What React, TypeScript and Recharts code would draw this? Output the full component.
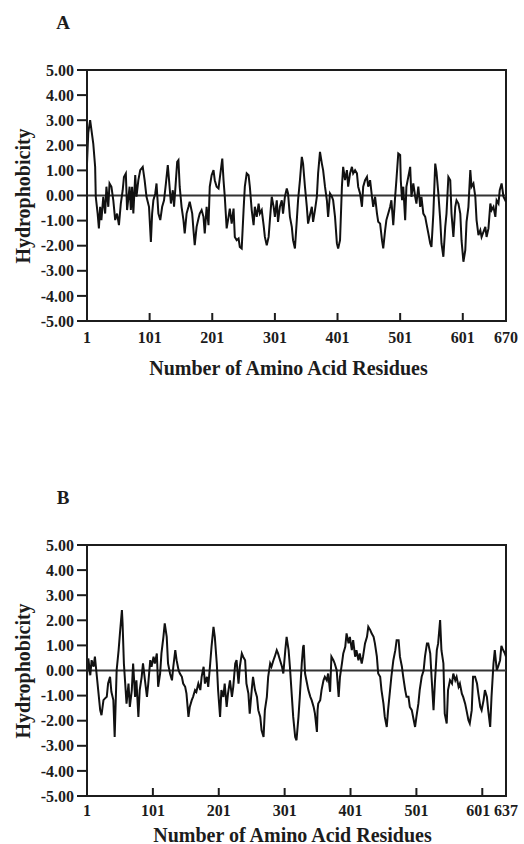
import React from 'react';
import { LineChart, Line, XAxis, YAxis, ReferenceLine, ReferenceArea } from 'recharts';

const Y_TICKS = [-5, -4, -3, -2, -1, 0, 1, 2, 3, 4, 5];
const A_X_TICKS = [1, 101, 201, 301, 401, 501, 601, 670];
const B_X_TICKS = [1, 101, 201, 301, 401, 501, 601, 637];
const Y_TITLE = 'Hydrophobicity';
const X_TITLE = 'Number of Amino Acid Residues';

// [residue, hydrophobicity]
const A_PROFILE: [number, number][] = [
  [1, 1.27], [3, 2.5], [6, 3.0], [11, 2.07], [14, 1.14], [15, -0.05], [18, -0.72], [20, -1.31], [22, -0.45], [24, -0.98],
  [27, -0.05], [30, -0.72], [32, 0.35], [35, -0.45], [37, 0.48], [40, 0.35], [43, -0.19], [46, -0.98], [49, -0.72], [52, -1.18],
  [55, -0.32], [58, 0.21], [60, 0.74], [63, 0.88], [65, -0.58], [69, 0.35], [71, -0.58], [73, 0.35], [75, -0.72], [78, 0.81],
  [80, -0.05], [83, 0.61], [86, 1.01], [90, 1.14], [93, 0.61], [96, -0.05], [100, -0.45], [103, -1.85], [105, -0.72], [107, -0.19],
  [110, 0.08], [112, 0.48], [115, -0.72], [118, -0.98], [121, -0.45], [124, -0.19], [127, 0.48], [130, 1.21], [132, 0.61], [135, -0.32],
  [138, 0.21], [140, -0.45], [143, 0.61], [145, 1.34], [147, 1.41], [149, 0.35], [152, -0.45], [155, -0.98], [157, -1.51], [160, -0.72],
  [163, -0.45], [165, -0.25], [169, -0.72], [171, -1.38], [173, -1.98], [176, -1.25], [179, -0.92], [181, -0.72], [184, -0.58], [187, -0.85],
  [189, -1.51], [192, -0.45], [195, -1.18], [197, 0.35], [200, 0.81], [203, 1.01], [205, 0.61], [208, 0.35], [211, 0.28], [213, 0.68],
  [217, 1.47], [219, 0.61], [221, -0.05], [224, -1.31], [227, -0.85], [229, -0.52], [232, -1.12], [235, -0.52], [237, -1.65], [240, -1.78],
  [243, -1.71], [245, -2.05], [248, -2.11], [251, -0.58], [253, 0.35], [256, 0.88], [259, 0.81], [261, 0.35], [264, -0.58], [267, -1.18],
  [269, -0.45], [272, -0.85], [275, -0.32], [277, -0.72], [280, -0.58], [283, -1.18], [285, -1.65], [288, -1.98], [291, -1.65], [293, -0.98],
  [296, -0.05], [299, -0.45], [301, -0.85], [304, -0.19], [306, -1.05], [309, -0.45], [312, -0.19], [314, -0.72], [317, -0.05], [320, 0.28],
  [322, 0.08], [325, -0.85], [328, -1.25], [330, -1.78], [333, -2.11], [336, -0.98], [338, -0.19], [341, 0.61], [344, 1.54], [346, 1.27],
  [349, 0.35], [352, -0.45], [354, -1.12], [357, -0.78], [360, -0.45], [362, -1.05], [365, -0.58], [368, -0.05], [370, 0.88], [373, 1.74],
  [376, 1.27], [378, 1.01], [381, 0.35], [384, -0.19], [386, -0.85], [389, 0.08], [392, -0.05], [394, -0.19], [397, -0.85], [400, -1.91],
  [402, -2.11], [405, -1.78], [408, 0.35], [410, 1.14], [413, 0.61], [416, 1.01], [418, 0.35], [421, 0.88], [424, 1.14], [426, 0.88],
  [429, 1.01], [432, 0.88], [434, 0.35], [437, 0.08], [440, -0.45], [442, 0.35], [445, 0.61], [448, 0.74], [450, 0.35], [453, 0.61],
  [456, -0.05], [458, -0.45], [461, -0.05], [464, -0.72], [466, -1.05], [469, -1.12], [472, -1.78], [474, -2.11], [477, -1.38], [479, -0.98],
  [482, -0.72], [485, -0.45], [487, -0.19], [490, -1.18], [493, -0.05], [495, 0.61], [498, 1.67], [501, 1.61], [502, 0.61], [504, -0.19],
  [506, 0.35], [509, -0.98], [511, 0.35], [514, 0.74], [517, 1.14], [519, -0.05], [522, 0.48], [525, -0.05], [527, -0.32], [530, 0.35],
  [533, -0.45], [535, -0.05], [538, -0.72], [541, -0.85], [543, -1.12], [546, -1.51], [549, -1.91], [551, -2.05], [554, -0.72], [557, 1.27],
  [559, 0.94], [562, 0.08], [565, -0.98], [567, -1.91], [570, -2.44], [573, -1.25], [575, -0.72], [578, 0.74], [581, 0.61], [583, -0.72],
  [586, -1.65], [589, -0.45], [591, -0.19], [594, -0.32], [597, -0.72], [599, -1.78], [602, -2.64], [605, -2.18], [607, -1.05], [610, -0.45],
  [613, 1.01], [615, 0.35], [618, 0.48], [621, -0.05], [623, -0.98], [626, -1.58], [629, -1.38], [631, -1.65], [634, -1.45], [637, -1.25],
  [639, -1.65], [642, -1.31], [645, -0.32], [647, -0.58], [650, -0.45], [653, -0.85], [655, -0.19], [658, -0.32], [660, 0.21], [663, 0.48],
  [666, -0.05], [670, -0.25],
];

const B_PROFILE: [number, number][] = [
  [1, -0.25], [3, 0.48], [6, -0.19], [8, 0.41], [11, 0.15], [13, 0.55], [16, -0.25], [18, -0.78], [21, -1.58], [23, -1.78],
  [26, -1.18], [28, -1.12], [31, -1.05], [33, -0.52], [36, -0.25], [38, -0.85], [41, -1.18], [43, -2.65], [46, 0.01], [49, 0.81],
  [51, 1.48], [54, 2.41], [55, 1.88], [57, 0.28], [59, -0.52], [61, -1.32], [64, -0.52], [66, -1.45], [69, -0.78], [71, 0.28],
  [74, -1.05], [76, -0.39], [79, -1.85], [81, -0.78], [84, -0.25], [86, 0.28], [89, -0.39], [92, -1.05], [94, -0.52], [97, 0.41],
  [99, 0.15], [102, 0.55], [104, 0.28], [107, 0.68], [109, -0.65], [112, -0.12], [114, 0.68], [117, 1.34], [119, 1.88], [122, 1.34],
  [124, 0.28], [127, -0.12], [130, -0.39], [132, 0.15], [135, 0.81], [137, 0.41], [140, 0.01], [142, -0.12], [145, -0.25], [147, -0.52],
  [150, -0.65], [152, -0.92], [155, -1.85], [157, -1.45], [160, -1.18], [162, -1.05], [165, -0.78], [167, -0.85], [170, -0.52], [173, -0.78],
  [175, -0.25], [178, 0.15], [180, -0.52], [183, -0.25], [185, -0.65], [188, 0.28], [190, 0.94], [193, 1.74], [195, 1.34], [198, 0.28],
  [200, -0.78], [203, -1.85], [205, -0.78], [208, -1.05], [210, -0.52], [213, -1.45], [215, -0.92], [218, -0.39], [221, -1.05], [223, -0.65],
  [226, 0.28], [228, 0.41], [231, -0.52], [233, 0.15], [236, 0.68], [238, 0.55], [241, 0.41], [243, -0.52], [246, -0.92], [248, -1.72],
  [251, -0.78], [253, -0.25], [256, -0.78], [259, -1.05], [261, -1.58], [264, -1.85], [266, -2.38], [269, -2.65], [271, -1.58], [274, -1.05],
  [276, -0.25], [279, 0.28], [281, 0.15], [284, 0.41], [286, 0.55], [289, 0.81], [291, 0.68], [294, 0.41], [297, 0.15], [299, -0.12],
  [302, 0.81], [304, 1.34], [307, 0.81], [309, 0.15], [312, -1.05], [314, -1.85], [317, -2.65], [319, -2.78], [322, -1.85], [324, -1.05],
  [327, 0.28], [329, 0.94], [330, 1.01], [332, -0.12], [334, -0.39], [337, -0.78], [340, -1.05], [342, -1.18], [345, -1.45], [347, -1.72],
  [350, -2.45], [351, -1.58], [352, -1.32], [355, -1.18], [357, -0.78], [360, -0.39], [362, -0.25], [365, -0.39], [367, -0.12], [370, -0.85],
  [372, 0.55], [375, 0.41], [377, 0.28], [380, 0.01], [383, -1.05], [385, -0.25], [388, 0.28], [390, 0.68], [393, 0.94], [395, 1.48],
  [398, 1.08], [400, 1.34], [403, 0.81], [405, 1.21], [408, 0.55], [410, 0.81], [413, 0.41], [415, 0.68], [418, 0.28], [420, 0.55],
  [423, 1.08], [426, 1.34], [428, 1.74], [431, 1.61], [433, 1.48], [436, 1.34], [438, 1.08], [441, 0.55], [443, -0.12], [446, -0.25],
  [448, -0.78], [451, -1.32], [453, -1.85], [456, -2.25], [458, -1.58], [461, -0.78], [463, -0.25], [466, 0.41], [469, 0.81], [471, 1.21],
  [474, 1.21], [476, 0.55], [479, 0.15], [481, -0.25], [484, -0.78], [486, -1.05], [489, -1.05], [491, -1.45], [494, -1.58], [496, -1.85],
  [499, -2.25], [501, -1.85], [504, -1.32], [506, -0.78], [509, -0.25], [512, 0.01], [514, 0.55], [517, 1.08], [519, 1.08], [522, 0.68],
  [524, -0.25], [527, -1.58], [529, -0.52], [532, 0.81], [534, 1.08], [537, 2.01], [539, 0.81], [542, 0.28], [544, -1.72], [547, -2.11],
  [549, -0.78], [552, -0.39], [555, -0.52], [557, -0.12], [560, -0.39], [562, -0.25], [565, -0.65], [567, -0.52], [570, -0.92], [572, -1.05],
  [575, -1.32], [577, -1.58], [580, -1.98], [582, -2.11], [585, -1.58], [587, -0.25], [590, -0.25], [593, -0.52], [595, -0.92], [598, -1.45],
  [600, -1.58], [603, -1.18], [605, -0.78], [608, -1.05], [610, -1.58], [613, -2.25], [615, -1.05], [618, 0.28], [620, 0.81], [623, 0.01],
  [625, 0.15], [628, 0.41], [630, 0.98], [632, 0.85], [635, 0.7], [637, 0.55],
];

const INK = '#1c1c1c';
const FONT = '"Liberation Serif", "Times New Roman", serif';

const textStyle: React.CSSProperties = {
  position: 'absolute',
  fontFamily: FONT,
  fontWeight: 'bold',
  color: INK,
  whiteSpace: 'nowrap',
  lineHeight: 0.8,
  transform: 'translate(-50%, -50%)',
};

function XTick(props: any) {
  const { x, y, payload, labelOffset, shiftLeft } = props;
  const dx = shiftLeft && payload.value === shiftLeft ? -4 : 0;
  return (
    <g>
      <line x1={x} x2={x} y1={y} y2={y - 8} stroke={INK} strokeWidth={2} />
      <text x={x + dx} y={y + labelOffset} textAnchor="middle" fill={INK} fontFamily={FONT} fontWeight="bold" fontSize={16}>
        {payload.value}
      </text>
    </g>
  );
}

function Panel(props: {
  top: number;
  profile: [number, number][];
  xTicks: number[];
  letter: string;
  labelOffset: number;
  titleX: number;
  titleY: number;
  shiftLeft?: number;
}) {
  const { top, profile, xTicks, letter, labelOffset, titleX, titleY, shiftLeft } = props;
  const data = profile.map(([r, v]) => ({ r, v }));
  const xMin = xTicks[0];
  const xMax = xTicks[xTicks.length - 1];
  return (
    <>
      <div style={{ ...textStyle, left: 63, top: top + 23, fontSize: 19 }}>{letter}</div>
      <div style={{ position: 'absolute', left: 0, top }}>
        <LineChart width={524} height={370} data={data} margin={{ top: 70, right: 18, bottom: 0, left: 0 }}>
          <XAxis
            dataKey="r"
            type="number"
            domain={[xMin, xMax]}
            ticks={xTicks}
            interval={0}
            allowDataOverflow
            height={49}
            tickSize={0}
            tickMargin={0}
            tickLine={false}
            axisLine={{ stroke: INK, strokeWidth: 2 }}
            tick={(p: any) => <XTick {...p} labelOffset={labelOffset} shiftLeft={shiftLeft} />}
          />
          <YAxis
            type="number"
            domain={[-5, 5]}
            ticks={Y_TICKS}
            interval={0}
            width={87}
            tickSize={10}
            tickMargin={3}
            tickLine={{ stroke: INK, strokeWidth: 2 }}
            axisLine={{ stroke: INK, strokeWidth: 2 }}
            tickFormatter={(v: number) => v.toFixed(2)}
            tick={{ fill: INK, fontFamily: FONT, fontWeight: 'bold', fontSize: 16 }}
          />
          <ReferenceArea x1={xMin} x2={xMax} y1={-5} y2={5} fill="none" stroke={INK} strokeWidth={2} fillOpacity={0} />
          <ReferenceLine y={0} stroke="#333" strokeWidth={2} />
          <Line
            type="linear"
            dataKey="v"
            stroke="#111"
            strokeWidth={2}
            dot={false}
            activeDot={false}
            isAnimationActive={false}
          />
        </LineChart>
      </div>
      <div style={{ ...textStyle, left: 23, top: top + 195.5, fontSize: 20, transform: 'translate(-50%, -50%) rotate(-90deg)' }}>
        {Y_TITLE}
      </div>
      <div style={{ ...textStyle, left: titleX, top: titleY, fontSize: 20 }}>{X_TITLE}</div>
    </>
  );
}

export default function App() {
  return (
    <div style={{ position: 'absolute', left: 0, top: 0, width: 524, height: 844, background: '#fff', overflow: 'hidden' }}>
      <Panel top={0} profile={A_PROFILE} xTicks={A_X_TICKS} letter="A" labelOffset={22} titleX={288.5} titleY={367.5} />
      <Panel top={475} profile={B_PROFILE} xTicks={B_X_TICKS} letter="B" labelOffset={20} titleX={292.5} titleY={834.5} shiftLeft={601} />
    </div>
  );
}
